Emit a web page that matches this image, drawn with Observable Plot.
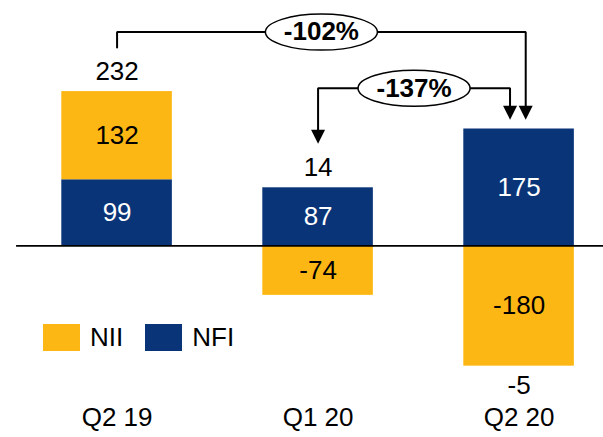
<!DOCTYPE html>
<html><head><meta charset="utf-8">
<script src="https://cdn.jsdelivr.net/npm/d3@7"></script>
<script src="https://cdn.jsdelivr.net/npm/@observablehq/plot@0.6"></script>
<style>
body{margin:0;background:#fff;font-family:"Liberation Sans",Arial,sans-serif;}
#wrap{position:relative;width:603px;height:437px;}
#wrap svg{position:absolute;left:0;top:0;}
#legend{position:absolute;left:43px;top:324px;display:flex;align-items:center;font-size:26px;color:#000;line-height:27px;}
.sw{width:37px;height:27px;display:inline-block;margin-right:10px;}
.lab{margin-right:22px;}
</style></head><body>
<div id="wrap"><div id="legend"></div></div>
<script>
// ---- data ----
const categories = ["Q2 19", "Q1 20", "Q2 20"];
const seriesNames = ["NFI", "NII"];           // stacking order (NFI at base)
const nfiValues = [99, 87, 175];
const niiValues = [132, -74, -180];
const totals = [232, 14, -5];
const changeLabels = ["-102%", "-137%"];
const changeFrom = [0, 1];
const changeTo = [2, 2];
const legendOrder = ["NII", "NFI"];
const colors = {NII: "#FDB714", NFI: "#0A3478"};
const labelColors = {NII: "#000", NFI: "#fff"};

// ---- build stacked table ----
const valuesBy = {NFI: nfiValues, NII: niiValues};
const rows = [], extents = [];
categories.forEach((c, i) => {
  let pos = 0, neg = 0;
  for (const s of seriesNames) {
    const v = valuesBy[s][i];
    let y1, y2;
    if (v >= 0) { y1 = pos; y2 = pos + v; pos = y2; } else { y1 = neg; y2 = neg + v; neg = y2; }
    rows.push({i, series: s, value: v, y1, y2, mid: (y1 + y2) / 2});
  }
  extents.push({i, total: totals[i], top: pos, bottom: neg});
});

// ---- annotation geometry (data units) ----
const halfW = 0.275;
const brackets = [
  {label: changeLabels[0], from: changeFrom[0], to: changeTo[0] + 0.033, level: 320, startY: 297, startArrow: false, endTip: 189},
  {label: changeLabels[1], from: changeFrom[1], to: changeTo[1] - 0.045, level: 236, startY: 153, startArrow: true, endTip: 189}
];
const linePts = [], tips = [], bubbles = [];
brackets.forEach((b, k) => {
  const sY = b.startArrow ? b.startY + 12 : b.startY;
  linePts.push({k, x: b.from, y: sY}, {k, x: b.from, y: b.level}, {k, x: b.to, y: b.level}, {k, x: b.to, y: b.endTip + 12});
  tips.push({x: b.to, y: b.endTip});
  if (b.startArrow) tips.push({x: b.from, y: b.startY});
  bubbles.push({x: (b.from + b.to) / 2, y: b.level, label: b.label});
});

const ellipse = {draw(ctx) {
  const rx = 56, ry = 18, k = 0.5523;
  ctx.moveTo(-rx, 0);
  ctx.bezierCurveTo(-rx, -ry * k, -rx * k, -ry, 0, -ry);
  ctx.bezierCurveTo(rx * k, -ry, rx, -ry * k, rx, 0);
  ctx.bezierCurveTo(rx, ry * k, rx * k, ry, 0, ry);
  ctx.bezierCurveTo(-rx * k, ry, -rx, ry * k, -rx, 0);
  ctx.closePath();
}};
const downTri = {draw(ctx) {
  ctx.moveTo(-7, -14); ctx.lineTo(7, -14); ctx.lineTo(0, 0); ctx.closePath();
}};

const FS = 26;
const chart = Plot.plot({
  width: 603, height: 437,
  marginTop: 4.9, marginBottom: 11.2, marginLeft: 0, marginRight: 0,
  x: {domain: [-0.58, 2.42], axis: null},
  y: {domain: [-270, 360], axis: null},
  style: {fontFamily: "'Liberation Sans', Arial, sans-serif", background: "transparent"},
  marks: [
    Plot.rect(rows, {x1: d => d.i - halfW, x2: d => d.i + halfW, y1: "y1", y2: "y2", fill: d => colors[d.series]}),
    Plot.ruleY([0], {x1: -0.5, x2: 2.42, stroke: "#000", strokeWidth: 1.6}),
    Plot.text(rows, {x: "i", y: "mid", text: d => String(d.value), fill: d => labelColors[d.series], fontSize: FS}),
    Plot.text(extents.filter(d => d.total >= 0), {x: "i", y: "top", dy: -20, text: d => String(d.total), fill: "#000", fontSize: FS}),
    Plot.text(extents.filter(d => d.total < 0), {x: "i", y: "bottom", dy: 20, text: d => String(d.total), fill: "#000", fontSize: FS}),
    Plot.text(categories, {x: (d, i) => i, frameAnchor: "bottom", text: d => d, fill: "#000", fontSize: FS}),
    Plot.line(linePts, {x: "x", y: "y", z: "k", stroke: "#000", strokeWidth: 2, strokeLinejoin: "miter"}),
    Plot.dot(tips, {x: "x", y: "y", symbol: downTri, fill: "#000", stroke: "none"}),
    Plot.dot(bubbles, {x: "x", y: "y", symbol: ellipse, fill: "#fff", stroke: "#000", strokeWidth: 1.5}),
    Plot.text(bubbles, {x: "x", y: "y", text: "label", fill: "#000", fontSize: 26, fontWeight: "bold"})
  ]
});
document.getElementById("wrap").prepend(chart);

const legend = document.getElementById("legend");
legendOrder.forEach(s => {
  const sw = document.createElement("span"); sw.className = "sw"; sw.style.background = colors[s];
  const lb = document.createElement("span"); lb.className = "lab"; lb.textContent = s;
  legend.append(sw, lb);
});
</script>
</body></html>
